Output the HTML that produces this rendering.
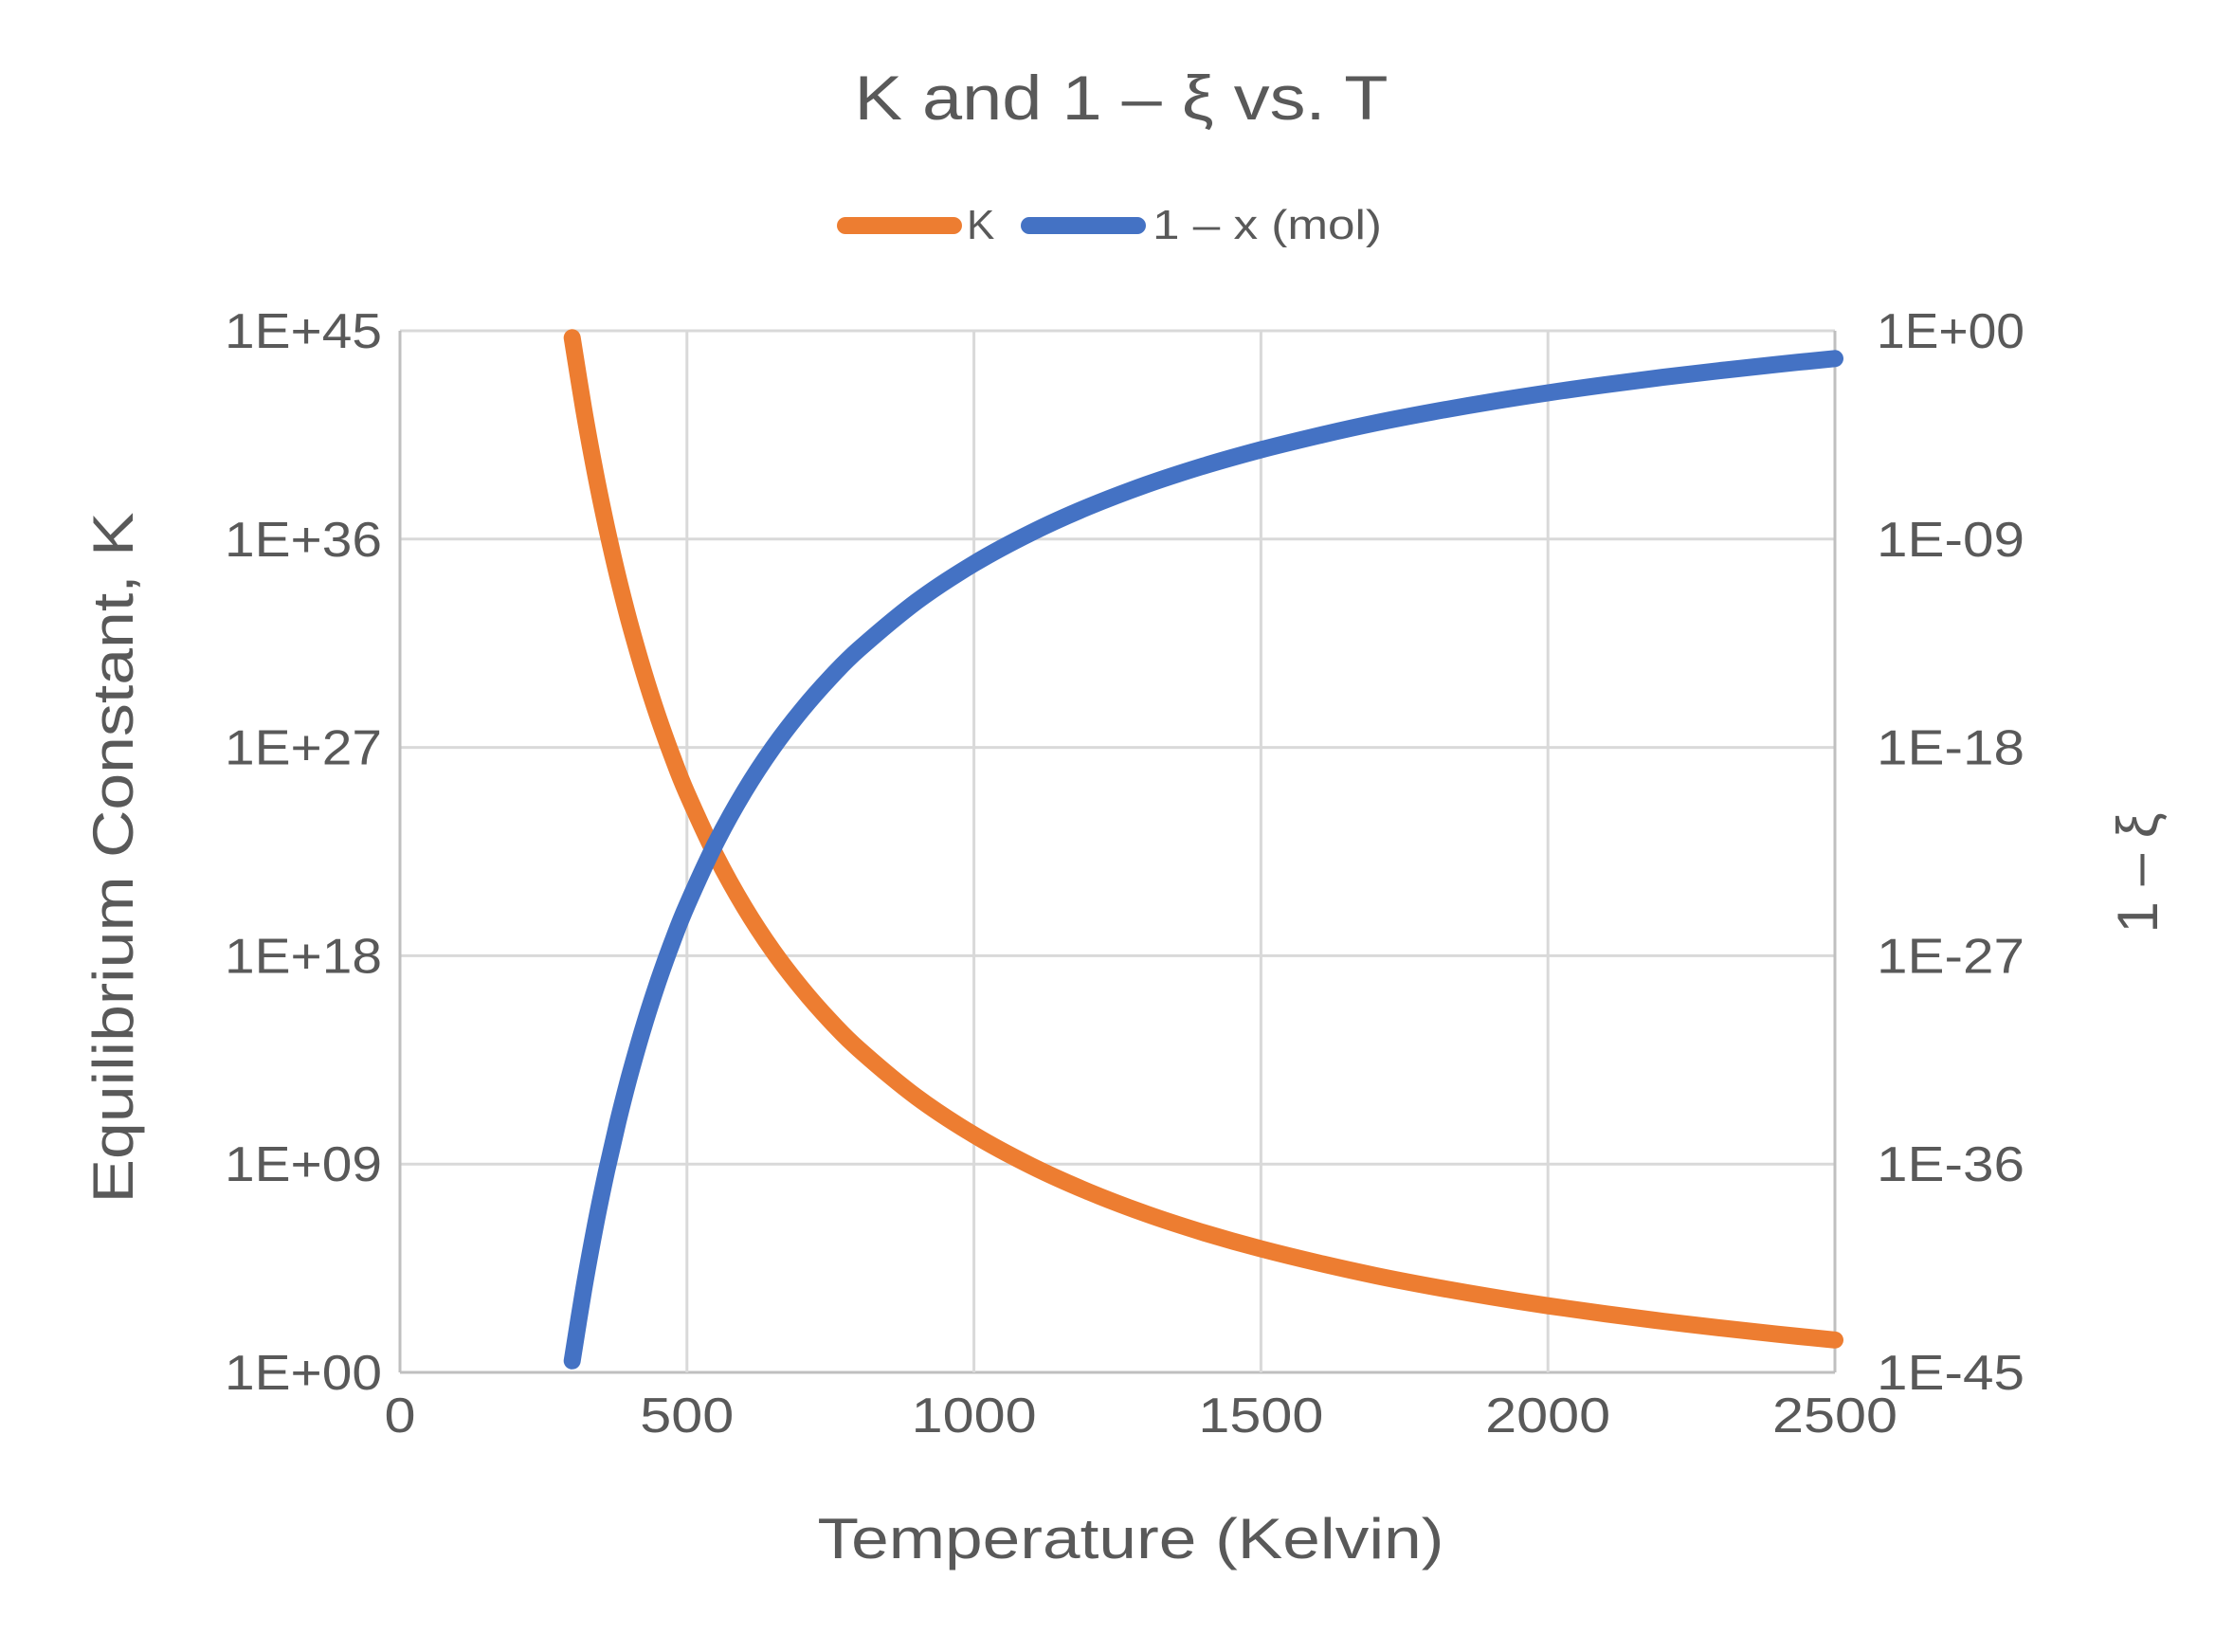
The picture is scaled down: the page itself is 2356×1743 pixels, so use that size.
<!DOCTYPE html>
<html><head><meta charset="utf-8"><style>
body{margin:0;background:#fff}
svg text{font-family:"Liberation Sans",sans-serif;fill:#595959}
</style></head><body>
<svg id="chart" width="2356" height="1738" viewBox="0 0 2356 1738" xmlns="http://www.w3.org/2000/svg">
<text x="1183" y="126" font-size="66" text-anchor="middle" textLength="563" lengthAdjust="spacingAndGlyphs">K and 1 – ξ vs. T</text>
<g>
<line x1="892" y1="238" x2="1006" y2="238" stroke="#ED7D31" stroke-width="18" stroke-linecap="round"/>
<text x="1020" y="252" font-size="44">K</text>
<line x1="1086" y1="238" x2="1200" y2="238" stroke="#4472C4" stroke-width="18" stroke-linecap="round"/>
<text x="1216" y="252" font-size="44" textLength="242" lengthAdjust="spacingAndGlyphs">1 – x (mol)</text>
</g>
<g id="grid"></g>
<g id="ticks"></g>
<g id="series"></g>
<text x="1193" y="1644" font-size="60" text-anchor="middle" textLength="661" lengthAdjust="spacingAndGlyphs">Temperature (Kelvin)</text>
<text transform="translate(140,905) rotate(-90)" font-size="60" text-anchor="middle" textLength="729" lengthAdjust="spacingAndGlyphs">Equilibrium Constant, K</text>
<text transform="translate(2276,921) rotate(-90)" font-size="60" text-anchor="middle">1 – ξ</text>
</svg>
<script>
const temps=[300,320,340,360,380,400,425,450,475,500,550,600,650,700,750,800,900,1000,1100,1200,1300,1400,1500,1600,1700,1800,1900,2000,2100,2200,2300,2400,2500];
const logK=[44.7,41.63,38.91,36.5,34.34,32.4,30.23,28.3,26.57,25.02,22.34,20.1,18.21,16.59,15.18,13.95,11.9,10.26,8.92,7.8,6.85,6.04,5.34,4.73,4.18,3.7,3.27,2.88,2.53,2.21,1.92,1.65,1.4];
const logOneMinusXi=[-44.5,-41.43,-38.71,-36.3,-34.14,-32.2,-30.03,-28.1,-26.37,-24.82,-22.14,-19.9,-18.01,-16.39,-14.98,-13.75,-11.7,-10.06,-8.72,-7.6,-6.65,-5.84,-5.14,-4.53,-3.98,-3.5,-3.07,-2.68,-2.33,-2.01,-1.72,-1.45,-1.2];
const xTicks=[0,500,1000,1500,2000,2500];
const leftTicks=[0,9,18,27,36,45];
const leftLabels=["1E+00","1E+09","1E+18","1E+27","1E+36","1E+45"];
const rightTicks=[-45,-36,-27,-18,-9,0];
const rightLabels=["1E-45","1E-36","1E-27","1E-18","1E-09","1E+00"];

const NS="http://www.w3.org/2000/svg";
const L=422,R=1936,T=349,B=1448;
const xs=v=>L+(v-0)/2500*(R-L);
const yL=v=>B-(v-0)/45*(B-T);
const yR=v=>B-(v+45)/45*(B-T);
function mk(tag,attrs,parent){const e=document.createElementNS(NS,tag);for(const k in attrs)e.setAttribute(k,attrs[k]);parent.appendChild(e);return e;}
const grid=document.getElementById('grid'),ticks=document.getElementById('ticks'),series=document.getElementById('series');
leftTicks.forEach((v,i)=>{
  const y=yL(v);
  const g=mk('line',{x1:L,x2:R,y1:y,y2:y,stroke:i===0?'#BFBFBF':'#D9D9D9','stroke-width':3},grid);
  
  
  const t=mk('text',{x:403,y:y+18,'font-size':52,'text-anchor':'end',textLength:166,lengthAdjust:'spacingAndGlyphs'},ticks);t.textContent=leftLabels[i];
  
  
});
rightTicks.forEach((v,i)=>{
  const t=mk('text',{x:1980,y:yR(v)+18,'font-size':52,textLength:156,lengthAdjust:'spacingAndGlyphs'},ticks);t.textContent=rightLabels[i];
  
  
});
xTicks.forEach((v,i)=>{
  const x=xs(v);
  const g=mk('line',{x1:x,x2:x,y1:T,y2:B,stroke:(i===0||i===xTicks.length-1)?'#BFBFBF':'#D9D9D9','stroke-width':3},grid);
  
  
  const s=String(v);
  const t=mk('text',{x:x,y:1511,'font-size':52,'text-anchor':'middle',textLength:33*s.length,lengthAdjust:'spacingAndGlyphs'},ticks);t.textContent=s;
  
  
});
function smooth(pts){
  let d='M'+pts[0][0].toFixed(1)+','+pts[0][1].toFixed(1);
  for(let i=0;i<pts.length-1;i++){
    const p0=pts[Math.max(i-1,0)],p1=pts[i],p2=pts[i+1],p3=pts[Math.min(i+2,pts.length-1)];
    const c1=[p1[0]+(p2[0]-p0[0])/6,p1[1]+(p2[1]-p0[1])/6];
    const c2=[p2[0]-(p3[0]-p1[0])/6,p2[1]-(p3[1]-p1[1])/6];
    d+=' C'+c1[0].toFixed(1)+','+c1[1].toFixed(1)+' '+c2[0].toFixed(1)+','+c2[1].toFixed(1)+' '+p2[0].toFixed(1)+','+p2[1].toFixed(1);
  }
  return d;
}
const pk=temps.map((t,i)=>[xs(t),yL(logK[i])]);
const pb=temps.map((t,i)=>[xs(t),yR(logOneMinusXi[i])]);
const lk=mk('path',{d:smooth(pk),fill:'none',stroke:'#ED7D31','stroke-width':18,'stroke-linecap':'round','stroke-linejoin':'round'},series);


const lb=mk('path',{d:smooth(pb),fill:'none',stroke:'#4472C4','stroke-width':18,'stroke-linecap':'round','stroke-linejoin':'round'},series);


</script>
</body></html>
